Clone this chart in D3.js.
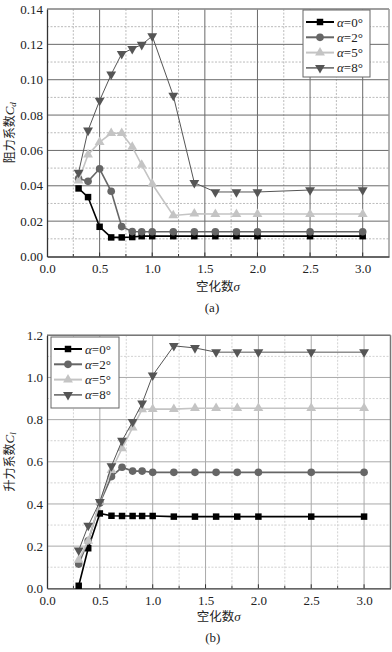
<!DOCTYPE html>
<html><head><meta charset="utf-8">
<script src="https://cdn.jsdelivr.net/npm/d3@7"></script>
<style>body{margin:0;background:#fff;}svg{display:block;}
.serif{font-family:"Liberation Serif","DejaVu Serif","Times New Roman",serif;}
.cjk{font-family:"Noto Sans CJK SC","Noto Sans",sans-serif;}
</style>
</head><body>
<svg id="c" width="392" height="652"></svg>
<script>
const sigma = [0.3,0.39,0.5,0.61,0.71,0.81,0.9,1.0,1.2,1.4,1.6,1.8,2.0,2.5,3.0];
const alphaLabels = ["0","2","5","8"];
const cd0 = [0.0385,0.0336,0.0168,0.0108,0.0108,0.011,0.0115,0.0115,0.0115,0.0115,0.0115,0.0115,0.0115,0.0115,0.0115];
const cd2 = [0.0441,0.0425,0.0496,0.0369,0.0169,0.0141,0.014,0.014,0.014,0.014,0.014,0.014,0.014,0.014,0.014];
const cd5 = [0.0429,0.0576,0.0647,0.0697,0.0697,0.062,0.0518,0.041,0.0232,0.0242,0.024,0.024,0.024,0.024,0.024];
const cd8 = [0.0475,0.0713,0.0882,0.103,0.1147,0.1175,0.1198,0.1247,0.091,0.0417,0.0365,0.0365,0.0365,0.0376,0.0376];
const cl0 = [0.012,0.19,0.355,0.344,0.343,0.343,0.343,0.343,0.34,0.34,0.34,0.34,0.34,0.34,0.34];
const cl2 = [0.115,0.225,0.405,0.53,0.574,0.556,0.556,0.55,0.55,0.55,0.55,0.55,0.55,0.55,0.55];
const cl5 = [0.135,0.225,0.41,0.56,0.664,0.762,0.849,0.85,0.85,0.854,0.854,0.854,0.854,0.854,0.854];
const cl8 = [0.18,0.297,0.41,0.58,0.70,0.79,0.877,1.01,1.15,1.14,1.12,1.12,1.12,1.12,1.12];
const xTicks = [0,0.5,1.0,1.5,2.0,2.5,3.0];
const cdTicks = [0,0.02,0.04,0.06,0.08,0.10,0.12,0.14];
const clTicks = [0,0.2,0.4,0.6,0.8,1.0,1.2];

const svg = d3.select("#c");

const styles = [
  {stroke:"#000", fill:"#000", w:1.6, sym:d3.symbolSquare, size:42, rot:0},
  {stroke:"#666", fill:"#666", w:1.6, sym:d3.symbolCircle, size:46, rot:0},
  {stroke:"#c4c4c4", fill:"#c4c4c4", w:1.6, sym:d3.symbolTriangle, size:42, rot:0},
  {stroke:"#555", fill:"#555", w:1.0, sym:d3.symbolTriangle, size:42, rot:180}
];

function drawChart(opt){
  const g = svg.append("g");
  const x = d3.scaleLinear().domain([0,3.25]).range([opt.left,opt.right]);
  const y = d3.scaleLinear().domain([0,opt.ymax]).range([opt.bottom,opt.top]);
  const xMinor = d3.range(0.25,3.25,0.5);
  const yMinor = opt.yTicks.slice(0,-1).map((v,i)=>(v+opt.yTicks[i+1])/2);
  g.selectAll(".xm").data(xMinor).join("line")
    .attr("x1",d=>x(d)).attr("x2",d=>x(d)).attr("y1",opt.top).attr("y2",opt.bottom)
    .attr("stroke",opt.minorColor).attr("stroke-width",0.8).attr("stroke-dasharray","2,1.5");
  g.selectAll(".ym").data(yMinor).join("line")
    .attr("x1",opt.left).attr("x2",opt.right).attr("y1",d=>y(d)).attr("y2",d=>y(d))
    .attr("stroke",opt.minorColor).attr("stroke-width",0.8).attr("stroke-dasharray","2,1.5");
  g.selectAll(".xg").data(xTicks.slice(1)).join("line")
    .attr("x1",d=>x(d)).attr("x2",d=>x(d)).attr("y1",opt.top).attr("y2",opt.bottom)
    .attr("stroke",opt.majorColor).attr("stroke-width",1);
  g.selectAll(".yg").data(opt.yTicks.slice(1)).join("line")
    .attr("x1",opt.left).attr("x2",opt.right).attr("y1",d=>y(d)).attr("y2",d=>y(d))
    .attr("stroke",opt.majorColor).attr("stroke-width",1);
  g.append("line").attr("x1",opt.left).attr("x2",opt.right).attr("y1",opt.top).attr("y2",opt.top)
    .attr("stroke",opt.frameColor).attr("stroke-width",1.5);
  g.append("line").attr("x1",opt.right).attr("x2",opt.right).attr("y1",opt.top).attr("y2",opt.bottom)
    .attr("stroke",opt.frameColor).attr("stroke-width",1.5);
  const xAxis = d3.axisBottom(x).tickValues(xTicks).tickFormat(d3.format(".1f")).tickSize(0).tickPadding(7);
  const ax = g.append("g").attr("transform",`translate(0,${opt.bottom})`).call(xAxis);
  const yAxis = d3.axisLeft(y).tickValues(opt.yTicks).tickFormat(d3.format(opt.yFmt)).tickSize(0).tickPadding(4);
  const ay = g.append("g").attr("transform",`translate(${opt.left},0)`).call(yAxis);
  [ax,ay].forEach(a=>{
    a.attr("font-family",null).attr("font-size",null).classed("serif",true);
    a.select(".domain").attr("stroke","#333").attr("stroke-width",1.3);
    a.selectAll("text").style("font-size","13px").attr("fill","#222");
  });
  g.selectAll(".xt").data(d3.range(0.25,3.25,0.25)).join("line")
    .attr("x1",d=>x(d)).attr("x2",d=>x(d)).attr("y1",opt.bottom).attr("y2",d=>opt.bottom-((d*4)%2===0?4:2.5))
    .attr("stroke","#333").attr("stroke-width",1);
  opt.series.forEach((vals,i)=>{
    const s = styles[i];
    const pts = sigma.map((sg,j)=>[sg,vals[j]]);
    g.append("path").datum(pts)
      .attr("d",d3.line().x(d=>x(d[0])).y(d=>y(d[1])))
      .attr("fill","none").attr("stroke",s.stroke).attr("stroke-width",s.w);
    g.selectAll(".m"+i).data(pts).join("path")
      .attr("d",d3.symbol().type(s.sym).size(s.size))
      .attr("transform",d=>`translate(${x(d[0])},${y(d[1])}) rotate(${s.rot})`)
      .attr("fill",s.fill);
  });
  const L = opt.legend;
  g.append("rect").attr("x",L.x).attr("y",L.y).attr("width",L.w).attr("height",L.h)
    .attr("fill","#fff").attr("stroke","#666").attr("stroke-width",1);
  alphaLabels.forEach((a,i)=>{
    const s = styles[i];
    const yy = L.y + 12 + i*15.3;
    g.append("line").attr("x1",L.x+3).attr("x2",L.x+31).attr("y1",yy).attr("y2",yy)
      .attr("stroke",s.stroke).attr("stroke-width",s.w+0.4);
    g.append("path").attr("d",d3.symbol().type(s.sym).size(s.size))
      .attr("transform",`translate(${L.x+17},${yy}) rotate(${s.rot})`).attr("fill",s.fill);
    const t = g.append("text").attr("class","serif").attr("x",L.x+34).attr("y",yy+4.5)
      .style("font-size","13px").attr("fill","#222");
    t.append("tspan").style("font-style","italic").text("α");
    t.append("tspan").text("="+a+"°");
  });
  const cx = (opt.left+opt.right)/2;
  const xl = g.append("text").attr("x",cx).attr("y",opt.xLabelY).attr("text-anchor","middle")
    .style("font-size","12.5px").attr("fill","#222");
  xl.append("tspan").attr("class","cjk").text("空化数");
  xl.append("tspan").attr("class","serif").style("font-style","italic").style("font-size","13px").text("σ");
  g.append("text").attr("class","serif").attr("x",cx-6).attr("y",opt.capY).attr("text-anchor","middle")
    .style("font-size","13px").attr("fill","#222").text(opt.cap);
  const cy = (opt.top+opt.bottom)/2;
  const yl = g.append("text").attr("transform",`translate(14,${cy}) rotate(-90)`)
    .attr("text-anchor","middle").style("font-size","12px").attr("fill","#222");
  yl.append("tspan").attr("class","cjk").text(opt.yName);
  yl.append("tspan").attr("class","serif").style("font-style","italic").style("font-size","13px").text("C");
  yl.append("tspan").attr("class","serif").style("font-style","italic").style("font-size","9px").attr("dy",2).text(opt.ySub);
}

drawChart({left:47,right:389,top:9,bottom:256.5,ymax:0.14,yTicks:cdTicks,yFmt:".2f",
  majorColor:"#6a6a6a",minorColor:"#aaa",frameColor:"#999",
  series:[cd0,cd2,cd5,cd8],
  legend:{x:303,y:10,w:67,h:67},
  xLabelY:291,capY:312,cap:"(a)",yName:"阻力系数",ySub:"d"});

drawChart({left:47,right:390.5,top:335.3,bottom:588.3,ymax:1.2,yTicks:clTicks,yFmt:".1f",
  majorColor:"#aaa",minorColor:"#c8c8c8",frameColor:"#777",
  series:[cl0,cl2,cl5,cl8],
  legend:{x:51,y:337,w:68,h:71},
  xLabelY:621,capY:642,cap:"(b)",yName:"升力系数",ySub:"l"});
</script>
</body></html>
